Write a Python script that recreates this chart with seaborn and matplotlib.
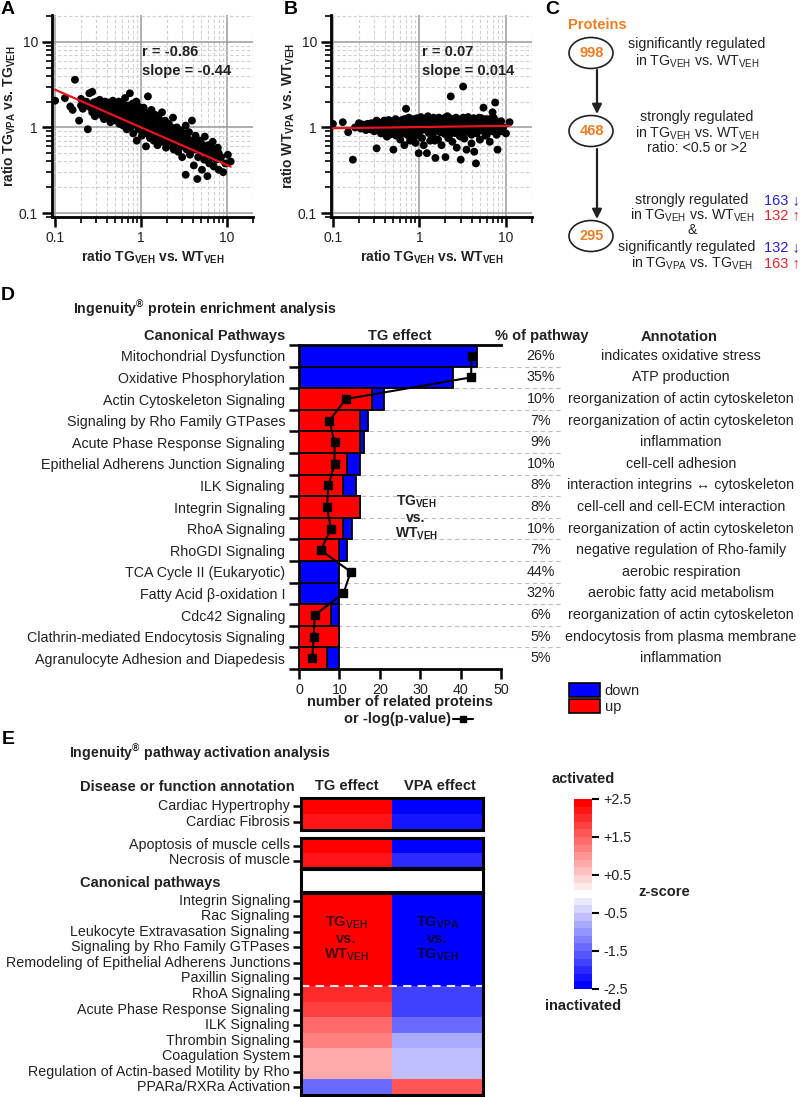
import numpy as np
import pandas as pd
import matplotlib
matplotlib.use("Agg")
import matplotlib.pyplot as plt
import seaborn as sns
from matplotlib.patches import Ellipse, Patch
from matplotlib.lines import Line2D
from matplotlib.ticker import NullFormatter

sns.set_theme(style="white")
plt.rcParams['font.family'] = ['Liberation Sans', 'DejaVu Sans']
plt.rcParams['mathtext.default'] = 'regular'

# ---------------- data ----------------
# panel A: ratio TG_VEH vs WT_VEH (x) against TG_VPA vs TG_VEH (y)
a_points = [
    (0.10, 2.05), (0.13, 2.2), (0.15, 1.75), (0.16, 1.6), (0.17, 3.6), (0.19, 1.2), (0.2, 2.15),
    (0.21, 1.65), (0.22, 1.9), (0.24, 0.95), (0.25, 2.5), (0.26, 1.7), (0.27, 2.6), (0.27, 1.5),
    (0.28, 1.95), (0.29, 1.35), (0.30, 2.0), (0.31, 1.75), (0.32, 1.55), (0.33, 2.1), (0.34, 1.4),
    (0.35, 1.85), (0.36, 1.65), (0.37, 1.25), (0.38, 2.0), (0.39, 1.5), (0.40, 1.75), (0.41, 1.35),
    (0.42, 1.95), (0.43, 1.6), (0.44, 1.15), (0.45, 1.8), (0.46, 1.45), (0.47, 2.05), (0.48, 1.3),
    (0.49, 1.6), (0.50, 1.85), (0.51, 1.2), (0.52, 1.5), (0.53, 1.7), (0.54, 1.35), (0.55, 2.0),
    (0.56, 1.1), (0.57, 1.55), (0.58, 1.75), (0.59, 1.3), (0.60, 1.45), (0.61, 1.9), (0.62, 1.05),
    (0.63, 1.6), (0.64, 1.25), (0.65, 2.2), (0.66, 1.4), (0.67, 1.7), (0.68, 0.95), (0.69, 1.5),
    (0.70, 1.3), (0.71, 1.8), (0.72, 1.15), (0.73, 1.55), (0.74, 2.5), (0.75, 1.0), (0.76, 1.4),
    (0.78, 1.65), (0.79, 1.2), (0.80, 1.9), (0.81, 0.85), (0.82, 1.45), (0.84, 1.1), (0.85, 1.6),
    (0.86, 1.3), (0.88, 2.0), (0.89, 0.7), (0.90, 1.4), (0.92, 1.15), (0.93, 1.75), (0.95, 0.95),
    (0.96, 1.3), (0.98, 1.55), (1.0, 1.05), (1.02, 0.8), (1.03, 1.4), (1.05, 1.2), (1.07, 1.7),
    (1.08, 0.9), (1.1, 1.3), (1.12, 1.05), (1.14, 0.6), (1.15, 1.5), (1.17, 0.85), (1.2, 2.3),
    (1.2, 1.15), (1.22, 0.95), (1.25, 1.35), (1.27, 0.75), (1.3, 1.05), (1.32, 1.6), (1.35, 0.88),
    (1.38, 1.2), (1.4, 0.7), (1.43, 1.0), (1.46, 1.4), (1.5, 0.82), (1.52, 1.1), (1.55, 0.62),
    (1.58, 0.95), (1.6, 1.3), (1.65, 0.75), (1.68, 1.05), (1.7, 0.88), (1.75, 1.5), (1.78, 0.68),
    (1.8, 0.98), (1.85, 0.8), (1.9, 1.2), (1.95, 0.58), (2.0, 0.9), (2.05, 0.72), (2.1, 1.1),
    (2.15, 0.82), (2.2, 0.62), (2.25, 1.0), (2.3, 0.75), (2.35, 1.3), (2.4, 0.55), (2.45, 0.88),
    (2.5, 0.68), (2.6, 1.0), (2.65, 0.8), (2.7, 0.52), (2.8, 0.72), (2.9, 0.92), (2.95, 0.6),
    (3.0, 0.45), (3.1, 0.8), (3.2, 0.66), (3.3, 0.28), (3.3, 1.05), (3.4, 0.55), (3.5, 0.74),
    (3.6, 0.88), (3.7, 0.48), (3.8, 0.62), (3.9, 1.2), (4.0, 0.7), (4.1, 0.36), (4.2, 0.55),
    (4.3, 0.8), (4.5, 0.25), (4.5, 0.62), (4.6, 0.45), (4.8, 0.7), (5.0, 0.52), (5.1, 0.32),
    (5.2, 0.6), (5.4, 0.42), (5.5, 0.78), (5.7, 0.5), (5.9, 0.27), (6.0, 0.62), (6.2, 0.38),
    (6.4, 0.55), (6.6, 0.45), (6.8, 0.68), (7.0, 0.35), (7.2, 0.5), (7.5, 0.42), (7.8, 0.58),
    (8.0, 0.32), (8.5, 0.45), (9.0, 0.3), (9.5, 0.38), (10.2, 0.48), (11.0, 0.4),
    (0.3, 1.6), (0.33, 1.8), (0.36, 1.45), (0.4, 1.55), (0.43, 1.85), (0.46, 1.65), (0.5, 1.45),
    (0.52, 1.9), (0.55, 1.6), (0.58, 1.4), (0.6, 1.65), (0.62, 1.35), (0.65, 1.55), (0.68, 1.75),
    (0.7, 1.45), (0.72, 1.25), (0.75, 1.6), (0.78, 1.35), (0.8, 1.15), (0.83, 1.5), (0.86, 1.2),
    (0.9, 1.6), (0.92, 1.0), (0.95, 1.45), (0.98, 1.2), (1.0, 1.35), (1.05, 1.0), (1.08, 1.5),
    (1.1, 0.92), (1.15, 1.2), (1.2, 1.0), (1.25, 1.15), (1.3, 0.9), (1.35, 1.25), (1.4, 1.05),
    (1.45, 0.85), (1.5, 1.2), (1.6, 0.88), (1.65, 1.15), (1.7, 0.75), (1.8, 1.1), (1.85, 0.92),
    (1.9, 0.7), (2.0, 1.05), (2.1, 0.8), (2.2, 0.95), (2.3, 0.65), (2.4, 0.82), (2.5, 0.92),
    (2.6, 0.62), (2.8, 0.82), (3.0, 0.7), (3.2, 0.85), (3.4, 0.62), (3.6, 0.7), (3.9, 0.55),
    (4.2, 0.68), (4.6, 0.58), (5.0, 0.65), (5.5, 0.55), (6.0, 0.48), (6.5, 0.6), (7.0, 0.52),
    (8.0, 0.5), (0.2, 1.8), (0.23, 2.0), (0.25, 1.75),
]
# panel B: ratio TG_VEH vs WT_VEH (x) against WT_VPA vs WT_VEH (y)
b_points = [
    (0.10, 1.1), (0.13, 1.15), (0.15, 0.88), (0.17, 0.42), (0.18, 1.0), (0.2, 1.05), (0.21, 0.97),
    (0.22, 1.08), (0.23, 1.02), (0.24, 0.93), (0.25, 1.1), (0.26, 1.0), (0.27, 0.95), (0.28, 1.12),
    (0.29, 1.03), (0.30, 0.9), (0.31, 1.06), (0.32, 0.57), (0.32, 0.98), (0.33, 1.15), (0.34, 0.92),
    (0.35, 1.04), (0.36, 0.85), (0.37, 1.1), (0.38, 0.97), (0.39, 1.2), (0.40, 0.88), (0.41, 1.02),
    (0.42, 0.78), (0.43, 1.13), (0.44, 0.95), (0.45, 1.06), (0.46, 0.9), (0.47, 1.18), (0.48, 0.84),
    (0.49, 1.0), (0.50, 0.55), (0.50, 1.1), (0.52, 0.93), (0.53, 1.25), (0.54, 0.8), (0.55, 1.03),
    (0.57, 0.9), (0.58, 1.15), (0.60, 0.72), (0.61, 1.0), (0.63, 1.22), (0.64, 0.86), (0.66, 1.08),
    (0.67, 0.62), (0.68, 0.95), (0.70, 1.65), (0.70, 1.12), (0.72, 0.82), (0.73, 1.02), (0.75, 1.3),
    (0.76, 0.9), (0.78, 0.7), (0.79, 1.17), (0.80, 0.98), (0.82, 1.06), (0.83, 0.78), (0.85, 1.25),
    (0.86, 0.92), (0.88, 1.1), (0.9, 0.66), (0.91, 1.0), (0.93, 1.2), (0.95, 0.85), (0.96, 1.05),
    (0.98, 0.5), (1.0, 1.14), (1.02, 0.9), (1.04, 1.32), (1.05, 0.98), (1.07, 0.75), (1.1, 1.08),
    (1.12, 0.62), (1.14, 1.2), (1.16, 0.94), (1.2, 1.02), (1.22, 0.5), (1.25, 1.35), (1.28, 0.86),
    (1.3, 1.12), (1.33, 0.7), (1.36, 1.0), (1.4, 1.25), (1.43, 0.8), (1.46, 1.06), (1.5, 0.92),
    (1.53, 0.44), (1.56, 1.18), (1.6, 0.98), (1.64, 0.72), (1.68, 1.3), (1.72, 0.88), (1.76, 1.1),
    (1.8, 0.62), (1.85, 1.02), (1.9, 1.22), (1.95, 0.84), (2.0, 0.45), (2.0, 1.08), (2.05, 0.95),
    (2.1, 1.35), (2.15, 0.75), (2.2, 1.15), (2.3, 2.3), (2.3, 0.9), (2.35, 1.03), (2.4, 0.68),
    (2.5, 1.25), (2.55, 0.86), (2.6, 1.1), (2.7, 0.58), (2.75, 0.97), (2.8, 1.2), (2.9, 0.8),
    (3.0, 0.42), (3.0, 1.06), (3.1, 0.92), (3.2, 3.0), (3.2, 1.3), (3.3, 0.74), (3.4, 1.0),
    (3.5, 0.55), (3.6, 1.15), (3.7, 0.88), (3.8, 1.05), (4.0, 0.65), (4.0, 1.22), (4.2, 0.95),
    (4.3, 0.52), (4.4, 1.1), (4.5, 0.38), (4.6, 0.85), (4.8, 1.0), (5.0, 0.72), (5.0, 1.2),
    (5.3, 0.92), (5.5, 1.7), (5.5, 1.05), (5.8, 0.8), (6.0, 1.12), (6.2, 0.95), (6.5, 0.68),
    (6.5, 1.25), (7.0, 1.5), (7.0, 0.9), (7.3, 1.05), (7.5, 1.95), (7.8, 0.82), (8.0, 0.55),
    (8.2, 1.1), (8.5, 0.95), (9.0, 0.9), (10.0, 0.85), (11.0, 1.15),
    (0.22, 1.0), (0.26, 1.08), (0.3, 1.02), (0.34, 1.1), (0.38, 1.05), (0.42, 1.0), (0.46, 1.12),
    (0.5, 0.98), (0.56, 1.15), (0.62, 1.05), (0.69, 1.2), (0.74, 0.96), (0.81, 1.15), (0.87, 1.02),
    (0.94, 1.28), (1.01, 1.05), (1.08, 1.22), (1.18, 1.1), (1.26, 0.96), (1.34, 1.18), (1.45, 1.3),
    (1.55, 1.02), (1.66, 1.14), (1.78, 1.25), (1.92, 1.0), (2.08, 1.2), (2.25, 1.28), (2.45, 1.05),
    (2.65, 1.3), (2.85, 1.1), (3.05, 1.25), (3.35, 1.15), (3.65, 1.32), (3.95, 1.0), (4.25, 1.28),
    (4.7, 1.15), (5.2, 1.28), (5.7, 1.1), (6.3, 1.02), (6.8, 1.15), (7.6, 1.2), (8.4, 1.05),
    (9.3, 1.0),
    (0.2, 1.12), (0.24, 1.02), (0.28, 0.98), (0.32, 1.2), (0.36, 1.0), (0.4, 1.12), (0.44, 1.22),
    (0.48, 1.05), (0.52, 1.12), (0.55, 0.92), (0.6, 1.12), (0.64, 0.98), (0.67, 1.25), (0.71, 1.05),
    (0.77, 1.08), (0.84, 0.98), (0.89, 1.18), (0.97, 0.95), (1.03, 1.15), (1.12, 0.98), (1.2, 1.25),
    (1.3, 1.0), (1.38, 1.1), (1.48, 1.18), (1.6, 1.1), (1.7, 0.95), (1.82, 1.15), (1.98, 1.3),
    (2.12, 1.0), (2.3, 1.12), (2.5, 0.95), (2.7, 1.18), (2.95, 0.98), (3.15, 1.12), (3.45, 0.9),
    (3.75, 1.2), (4.1, 1.08), (4.5, 1.0), (4.9, 1.3), (5.4, 0.95), (5.9, 1.25), (6.6, 0.92),
    (7.2, 1.3), (8.0, 1.1), (8.8, 1.18), (0.45, 0.82), (0.9, 0.8), (1.5, 0.7), (2.2, 0.8),
    (3.0, 0.78), (4.0, 0.82), (6.0, 0.82),
]
a_r, a_slope, a_icpt = -0.86, -0.44, 0.0
b_r, b_slope, b_icpt = 0.07, 0.014, 0.004

# panel C
flow_counts = [998, 468, 295]
tg_down, tg_up = 163, 132
vpa_down, vpa_up = 132, 163

# panel D
pathways = ['Mitochondrial Dysfunction', 'Oxidative Phosphorylation', 'Actin Cytoskeleton Signaling',
            'Signaling by Rho Family GTPases', 'Acute Phase Response Signaling',
            'Epithelial Adherens Junction Signaling', 'ILK Signaling', 'Integrin Signaling',
            'RhoA Signaling', 'RhoGDI Signaling', 'TCA Cycle II (Eukaryotic)',
            'Fatty Acid β-oxidation I', 'Cdc42 Signaling', 'Clathrin-mediated Endocytosis Signaling',
            'Agranulocyte Adhesion and Diapedesis']
up_counts = [0, 0, 18, 15, 15, 12, 11, 15, 11, 10, 0, 0, 8, 10, 7]
down_counts = [44, 38, 3, 2, 1, 3, 3, 0, 2, 2, 10, 10, 2, 0, 3]
neg_log_p = [42.7, 42.6, 11.6, 7.5, 8.8, 8.8, 7.3, 6.9, 7.9, 5.4, 12.8, 11.0, 3.9, 3.6, 3.3]
pct_pathway = ['26%', '35%', '10%', '7%', '9%', '10%', '8%', '8%', '10%', '7%', '44%', '32%',
               '6%', '5%', '5%']
annotations = ['indicates oxidative stress', 'ATP production', 'reorganization of actin cytoskeleton',
               'reorganization of actin cytoskeleton', 'inflammation', 'cell-cell adhesion',
               'interaction integrins ↔ cytoskeleton', 'cell-cell and cell-ECM interaction',
               'reorganization of actin cytoskeleton', 'negative regulation of Rho-family',
               'aerobic respiration', 'aerobic fatty acid metabolism',
               'reorganization of actin cytoskeleton', 'endocytosis from plasma membrane',
               'inflammation']

# panel E (z-scores)
disease_1 = ['Cardiac Hypertrophy', 'Cardiac Fibrosis']
tg_1 = [2.5, 2.2]
vpa_1 = [-2.5, -2.2]
disease_2 = ['Apoptosis of muscle cells', 'Necrosis of muscle']
tg_2 = [2.5, 2.2]
vpa_2 = [-2.4, -2.0]
canonical = ['Integrin Signaling', 'Rac Signaling', 'Leukocyte Extravasation Signaling',
             'Signaling by Rho Family GTPases', 'Remodeling of Epithelial Adherens Junctions',
             'Paxillin Signaling', 'RhoA Signaling', 'Acute Phase Response Signaling',
             'ILK Signaling', 'Thrombin Signaling', 'Coagulation System',
             'Regulation of Actin-based Motility by Rho', 'PPARa/RXRa Activation']
tg_canon = [2.5, 2.5, 2.5, 2.4, 2.4, 2.4, 1.9, 1.8, 1.4, 1.1, 0.7, 0.7, -1.5]
vpa_canon = [-2.5, -2.5, -2.5, -2.4, -2.4, -2.4, -1.9, -1.8, -1.4, -0.9, -0.7, -0.7, 1.5]
cbar_ticks = [2.5, 1.5, 0.5, -0.5, -1.5, -2.5]

# ---------------- figure ----------------
W, H = 800, 1097
fig = plt.figure(figsize=(W / 100, H / 100), dpi=100)
TXT = '#222222'
RED = '#ff0000'
BLUE = '#0000ff'
ORANGE = '#ef7d22'
FS = 10.2


def rect(l, t, r, b):
    return [l / W, 1 - b / H, (r - l) / W, (b - t) / H]


def sub(main, s):
    return main + '$_{' + s + '}$'


def ratio_panel(box, points, slope, icpt, xlim, ylab):
    ax = fig.add_axes(rect(*box))
    df = pd.DataFrame(points, columns=['x', 'y'])
    ax.set_xscale('log')
    ax.set_yscale('log')
    ax.grid(True, which='major', color='#9a9a9a', lw=1.1, ls='-', zorder=0)
    ax.grid(True, which='minor', color='#d0d0d0', lw=0.8, ls=(0, (3, 2)), zorder=0)
    sns.scatterplot(data=df, x='x', y='y', color='black', s=32, edgecolor='none', ax=ax, zorder=3)
    xs = np.array([df['x'].min(), df['x'].max()])
    ax.plot(xs, 10 ** (icpt + slope * np.log10(xs)), color='#e8141c', lw=1.6, zorder=4)
    ax.set_xlim(*xlim)
    ax.set_ylim(0.09, 20.5)
    ax.set_xticks([0.1, 1, 10])
    ax.set_xticklabels(['0.1', '1', '10'])
    ax.set_yticks([0.1, 1, 10])
    ax.set_yticklabels(['0.1', '1', '10'])
    ax.xaxis.set_minor_formatter(NullFormatter())
    ax.yaxis.set_minor_formatter(NullFormatter())
    ax.tick_params(which='major', length=7, width=1.8, direction='out', color='black',
                   labelsize=10, labelcolor=TXT, bottom=True, left=True, pad=3)
    ax.tick_params(which='minor', length=4, width=1.2, direction='out', color='black',
                   bottom=True, left=True)
    for s in ['top', 'right']:
        ax.spines[s].set_visible(False)
    for s in ['left', 'bottom']:
        ax.spines[s].set_color('black')
        ax.spines[s].set_linewidth(2)
    ax.set_xlabel('ratio ' + sub('TG', 'VEH') + ' vs. ' + sub('WT', 'VEH'),
                  fontsize=10, fontweight='bold', color=TXT, labelpad=3)
    ax.set_ylabel(ylab, fontsize=10, fontweight='bold', color=TXT, labelpad=1)
    return ax


ratio_panel((52, 15, 253, 217), a_points, a_slope, a_icpt, (0.092, 20),
            'ratio ' + sub('TG', 'VPA') + ' vs. ' + sub('TG', 'VEH'))
ratio_panel((331, 15, 532, 217), b_points, b_slope, b_icpt, (0.095, 20),
            'ratio ' + sub('WT', 'VPA') + ' vs. ' + sub('WT', 'VEH'))

# ---- panel D: enrichment bars ----
ax_d = fig.add_axes(rect(299, 345, 501, 669))
total_counts = [u + d for u, d in zip(up_counts, down_counts)]
ax_d.hlines(np.arange(0.5, 14, 1.0), 0, 65, colors='#bdbdbd', linestyles=(0, (4, 3)),
            lw=0.8, clip_on=False, zorder=0)
sns.barplot(x=total_counts, y=pathways, orient='h', color=BLUE, saturation=1, width=1.0,
            edgecolor='black', linewidth=1.3, errorbar=None, ax=ax_d, zorder=2)
sns.barplot(x=up_counts, y=pathways, orient='h', color=RED, saturation=1, width=1.0,
            edgecolor='black', linewidth=1.3, errorbar=None, ax=ax_d, zorder=3)
ax_d.plot(neg_log_p, np.arange(len(pathways)), color='black', lw=1.5, marker='s', ms=6,
          zorder=5)
ax_d.set_xlim(0, 50)
ax_d.set_ylim(14.5, -0.5)
ax_d.set_xticks([0, 10, 20, 30, 40, 50])
ax_d.set_yticks(np.arange(-0.5, 15.0, 1.0))
ax_d.set_yticklabels([])
ax_d.set_yticks(np.arange(len(pathways)), minor=True)
ax_d.set_yticklabels(pathways, minor=True)
ax_d.tick_params(axis='y', which='major', length=7, width=1.8, direction='out', left=True,
                 color='black')
ax_d.tick_params(axis='y', which='minor', length=0, pad=10, labelsize=10.3, labelcolor=TXT,
                 left=True)
ax_d.tick_params(axis='x', length=7, width=1.8, direction='out', bottom=True, color='black',
                 labelsize=10.3, labelcolor=TXT, pad=3)
ax_d.set_xlabel('')
ax_d.set_ylabel('')
ax_d.spines['right'].set_visible(False)
for s in ['left', 'bottom', 'top']:
    ax_d.spines[s].set_color('black')
    ax_d.spines[s].set_linewidth(2)
ax_d.text(29, 7.5, sub('TG', 'VEH') + '\nvs.\n' + sub('WT', 'VEH'), ha='center', va='center',
          fontsize=10, fontweight='bold', color=TXT, linespacing=1.05, zorder=6)

fig.legend(handles=[Patch(facecolor=BLUE, edgecolor='black', lw=1.2, label='down'),
                    Patch(facecolor=RED, edgecolor='black', lw=1.2, label='up')],
           loc='upper left', bbox_to_anchor=(569 / W, 1 - 683 / H), frameon=False,
           fontsize=10.5, handlelength=2.1, handleheight=1.1, handletextpad=0.35,
           labelspacing=0.1, borderaxespad=0, borderpad=0, labelcolor=TXT)

# ---- panel E: activation heatmaps ----
cmap = plt.get_cmap('bwr').resampled(25)


def heat_block(box, labels, tg, vpa, cbar_ax=None):
    ax = fig.add_axes(rect(*box))
    df = pd.DataFrame({'TG effect': tg, 'VPA effect': vpa}, index=labels)
    kws = dict(cmap=cmap, vmin=-2.5, vmax=2.5, xticklabels=False, yticklabels=True, ax=ax)
    if cbar_ax is None:
        sns.heatmap(df, cbar=False, **kws)
    else:
        sns.heatmap(df, cbar=True, cbar_ax=cbar_ax, cbar_kws={'ticks': cbar_ticks}, **kws)
    ax.set_ylabel('')
    ax.tick_params(axis='y', length=6, width=1.8, direction='out', left=True, color='black',
                   labelsize=10.3, labelcolor=TXT, pad=2)
    plt.setp(ax.get_yticklabels(), rotation=0)
    for s in ax.spines.values():
        s.set_visible(True)
        s.set_color('black')
        s.set_linewidth(2.2)
    return ax


heat_block((301, 798, 483, 830), disease_1, tg_1, vpa_1)
heat_block((301, 838, 483, 868), disease_2, tg_2, vpa_2)
ax_gap = fig.add_axes(rect(301, 869, 483, 892))
ax_gap.set_xticks([])
ax_gap.set_yticks([])
for s in ax_gap.spines.values():
    s.set_visible(True)
    s.set_color('black')
    s.set_linewidth(2.2)
cax = fig.add_axes(rect(574, 799, 592, 989))
ax_c = heat_block((301, 893, 483, 1095), canonical, tg_canon, vpa_canon, cbar_ax=cax)
ax_c.axhline(6, color='#e8e8e8', ls=(0, (4, 3)), lw=1.5)
ax_c.text(0.5, 2.95, sub('TG', 'VEH') + '\nvs.\n' + sub('WT', 'VEH'), ha='center', va='center',
          fontsize=10.5, fontweight='bold', color='black', alpha=0.72, linespacing=1.05)
ax_c.text(1.5, 2.95, sub('TG', 'VPA') + '\nvs.\n' + sub('TG', 'VEH'), ha='center', va='center',
          fontsize=10.5, fontweight='bold', color='black', alpha=0.72, linespacing=1.05)
cb = ax_c.collections[0].colorbar
cb.set_ticks(cbar_ticks)
cb.set_ticklabels(['+2.5', '+1.5', '+0.5', '-0.5', '-1.5', '-2.5'])
cb.outline.set_visible(False)
cax.tick_params(length=5, width=1.5, color='black', labelsize=10.3, labelcolor=TXT, right=True,
                pad=3)

# ---------------- free text / panel C (pixel overlay) ----------------
ov = fig.add_axes([0, 0, 1, 1])
ov.set_xlim(0, W)
ov.set_ylim(H, 0)
ov.axis('off')


def T(x, y, s, ha='center', size=FS, bold=False, color=TXT, **kw):
    ov.text(x, y, s, ha=ha, va='center', fontsize=size,
            fontweight='bold' if bold else 'normal', color=color, **kw)


for letter, x, y in [('A', 8, 10), ('B', 291, 10), ('C', 552, 10), ('D', 8, 295), ('E', 8, 739)]:
    T(x, y, letter, size=14, bold=True, color='black')

T(142, 52, 'r = %.2f' % a_r, ha='left', size=10.5, bold=True)
T(142, 71, 'slope = %.2f' % a_slope, ha='left', size=10.5, bold=True)
T(422, 52, 'r = %.2f' % b_r, ha='left', size=10.5, bold=True)
T(422, 71, 'slope = %.3f' % b_slope, ha='left', size=10.5, bold=True)

# panel C flow
T(597, 25, 'Proteins', size=10.5, bold=True, color=ORANGE)
for n, cy in zip(flow_counts, [53, 131, 236]):
    ov.add_patch(Ellipse((591, cy), 44, 31, fill=False, lw=1.2, ec=TXT))
    T(592, cy, str(n), size=10.5, bold=True, color=ORANGE)
for y0, y1 in [(70, 114), (149, 219)]:
    ov.annotate('', xy=(597, y1), xytext=(597, y0),
                arrowprops=dict(arrowstyle='-|>', lw=1.6, color=TXT, mutation_scale=14,
                                shrinkA=0, shrinkB=0))
T(697, 44, 'significantly regulated')
T(697, 61, 'in ' + sub('TG', 'VEH') + ' vs. ' + sub('WT', 'VEH'))
T(697, 117, 'strongly regulated')
T(697, 133, 'in ' + sub('TG', 'VEH') + ' vs. ' + sub('WT', 'VEH'))
T(697, 148, 'ratio: <0.5 or >2')
T(692, 200, 'strongly regulated')
T(692, 215, 'in ' + sub('TG', 'VEH') + ' vs. ' + sub('WT', 'VEH'))
T(692, 230, '&')
T(687, 247, 'significantly regulated')
T(692, 263, 'in ' + sub('TG', 'VPA') + ' vs. ' + sub('TG', 'VEH'))
T(764, 200, '%d ↓' % tg_down, ha='left', size=10.5, color='#2323d8')
T(764, 215, '%d ↑' % tg_up, ha='left', size=10.5, color='#e0262b')
T(764, 247, '%d ↓' % vpa_down, ha='left', size=10.5, color='#2323d8')
T(764, 263, '%d ↑' % vpa_up, ha='left', size=10.5, color='#e0262b')

# panel D headers and columns
T(205, 309, 'Ingenuity$^{®}$ protein enrichment analysis', bold=True)
T(285, 336, 'Canonical Pathways', ha='right', bold=True, size=10.5)
T(400, 336, 'TG effect', bold=True, size=10.5)
T(542, 336, '% of pathway', bold=True, size=10.5)
T(679, 337, 'Annotation', bold=True, size=10.5)
for i, (p, a) in enumerate(zip(pct_pathway, annotations)):
    y = 345 + 21.6 * (i + 0.5)
    T(541, y, p, size=10.3)
    T(681, y, a, size=10.3)
T(400, 702, 'number of related proteins', bold=True, size=10.5)
T(451, 719, 'or -log(p-value)', ha='right', bold=True, size=10.5)
ov.add_line(Line2D([453, 463, 473], [719, 719, 719], color='black', lw=1.5, marker='s', ms=5,
                   markevery=[1]))

# panel E headers
T(200, 753, 'Ingenuity$^{®}$ pathway activation analysis', bold=True)
T(80, 787, 'Disease or function annotation', ha='left', bold=True, size=10.5)
T(80, 883, 'Canonical pathways', ha='left', bold=True, size=10.5)
T(347, 786, 'TG effect', bold=True, size=10.5)
T(440, 786, 'VPA effect', bold=True, size=10.5)
T(583, 779, 'activated', bold=True, size=10.5)
T(583, 1006, 'inactivated', bold=True, size=10.5)
T(638, 892, 'z-score', ha='left', bold=True, size=10.5)

fig.savefig('out.png', dpi=100)
